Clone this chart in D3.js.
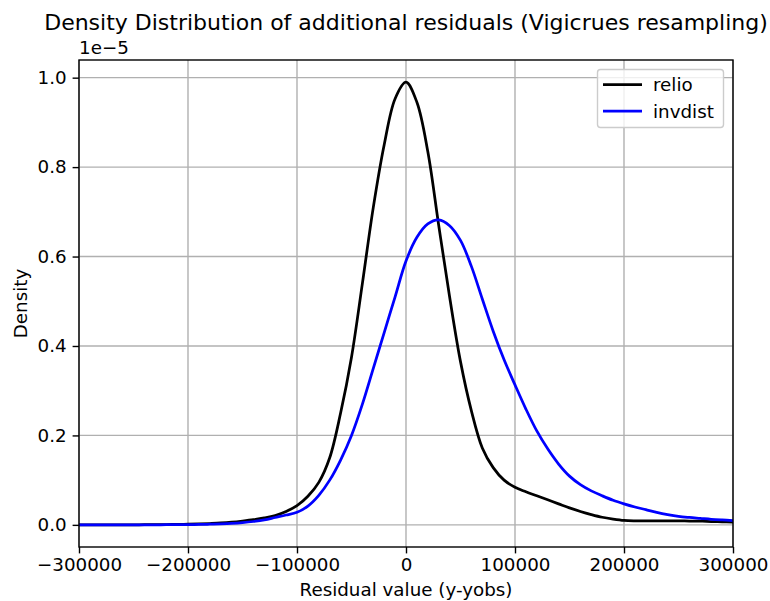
<!DOCTYPE html>
<html>
<head>
<meta charset="utf-8">
<script src="https://cdn.jsdelivr.net/npm/d3@7"></script>
<style>
  html, body { margin: 0; padding: 0; background: #fff; }
  svg { display: block; font-family: "DejaVu Sans", sans-serif; }
</style>
</head>
<body>
<svg id="chart" width="770" height="601"></svg>
<script>
// ---- data (density values in units of 1e-5) ----
const xValues = d3.range(-300000, 300001, 10000);
const relio = [
  0.0000, 0.0000, 0.0000, 0.0000, 0.0001, 0.0002, 0.0003, 0.0005, 0.0007, 0.0010,
  0.0014, 0.0020, 0.0030, 0.0042, 0.0060, 0.0085, 0.0115, 0.0155, 0.0210, 0.0300,
  0.0430, 0.0640, 0.0950, 0.1500, 0.2500, 0.3750, 0.5400, 0.7100, 0.8500, 0.9530,
  0.9900, 0.9450, 0.8350, 0.6700, 0.5100, 0.3650, 0.2550, 0.1720, 0.1280, 0.1000,
  0.0840, 0.0740, 0.0650, 0.0560, 0.0470, 0.0380, 0.0300, 0.0230, 0.0170, 0.0130,
  0.0100, 0.0090, 0.0088, 0.0088, 0.0088, 0.0088, 0.0086, 0.0082, 0.0075, 0.0068,
  0.0060
];
const invdist = [
  0.0000, 0.0000, 0.0000, 0.0000, 0.0000, 0.0001, 0.0001, 0.0002, 0.0003, 0.0004,
  0.0006, 0.0009, 0.0014, 0.0022, 0.0033, 0.0050, 0.0075, 0.0110, 0.0165, 0.0220,
  0.0280, 0.0420, 0.0660, 0.1000, 0.1450, 0.2000, 0.2700, 0.3500, 0.4300, 0.5100,
  0.5900, 0.6430, 0.6730, 0.6820, 0.6690, 0.6360, 0.5780, 0.5050, 0.4330, 0.3690,
  0.3130, 0.2590, 0.2100, 0.1700, 0.1360, 0.1090, 0.0900, 0.0760, 0.0650, 0.0550,
  0.0470, 0.0400, 0.0340, 0.0280, 0.0230, 0.0190, 0.0165, 0.0145, 0.0125, 0.0110,
  0.0097
];
const seriesNames = ["relio", "invdist"];
const seriesColors = ["#000000", "#0000ff"];
const xTicks = [-300000, -200000, -100000, 0, 100000, 200000, 300000];
const yTicks = [0.0, 0.2, 0.4, 0.6, 0.8, 1.0];
const titleText = "Density Distribution of additional residuals (Vigicrues resampling)";
const xLabel = "Residual value (y-yobs)";
const yLabel = "Density";
const offsetText = "1e\u22125";

// ---- layout ----
const svg = d3.select("#chart");
const pLeft = 79, pRight = 733, pTop = 60, pBottom = 547;
const fs = "18.3px";

const x = d3.scaleLinear().domain([-300000, 300000]).range([pLeft, pRight]);
const ymax = 0.99;
const y = d3.scaleLinear().domain([-0.05 * ymax, 1.05 * ymax]).range([pBottom, pTop]);

const fmtX = d => (d < 0 ? "\u2212" : "") + Math.abs(d);
const fmtY = d => d.toFixed(1);

// grid
const grid = svg.append("g");
xTicks.forEach(t => grid.append("line")
  .attr("x1", x(t)).attr("x2", x(t)).attr("y1", pTop).attr("y2", pBottom)
  .attr("stroke", "#b0b0b0").attr("stroke-width", 1.4));
yTicks.forEach(t => grid.append("line")
  .attr("x1", pLeft).attr("x2", pRight).attr("y1", y(t)).attr("y2", y(t))
  .attr("stroke", "#b0b0b0").attr("stroke-width", 1.4));

// clip
svg.append("clipPath").attr("id", "clip").append("rect")
  .attr("x", pLeft).attr("y", pTop).attr("width", pRight - pLeft).attr("height", pBottom - pTop);

const line = d3.line()
  .x((d, i) => x(xValues[i]))
  .y(d => y(d))
  .curve(d3.curveCatmullRom.alpha(0.5));

const lines = svg.append("g").attr("clip-path", "url(#clip)");
[relio, invdist].forEach((s, k) => {
  lines.append("path").datum(s)
    .attr("d", line)
    .attr("fill", "none")
    .attr("stroke", seriesColors[k])
    .attr("stroke-width", 2.75)
    .attr("stroke-linejoin", "round")
    .attr("stroke-linecap", "square");
});

// axes
const xAxis = d3.axisBottom(x).tickValues(xTicks).tickFormat(fmtX).tickSize(6.4).tickPadding(5);
const yAxis = d3.axisLeft(y).tickValues(yTicks).tickFormat(fmtY).tickSize(6.4).tickPadding(6);

const gx = svg.append("g").attr("transform", `translate(0,${pBottom})`).call(xAxis);
const gy = svg.append("g").attr("transform", `translate(${pLeft},0)`).call(yAxis);
[gx, gy].forEach(g => {
  g.select(".domain").remove();
  g.selectAll("line").attr("stroke", "#000").attr("stroke-width", 1.4);
  g.selectAll("text").attr("font-size", fs).attr("fill", "#000")
    .attr("font-family", "DejaVu Sans, sans-serif");
});

// spines
svg.append("rect").attr("x", pLeft).attr("y", pTop)
  .attr("width", pRight - pLeft).attr("height", pBottom - pTop)
  .attr("fill", "none").attr("stroke", "#000").attr("stroke-width", 1.4);

// texts
svg.append("text").attr("x", (pLeft + pRight) / 2).attr("y", 30)
  .attr("text-anchor", "middle").attr("font-size", "22px").text(titleText);
svg.append("text").attr("x", pLeft).attr("y", 54)
  .attr("font-size", fs).text(offsetText);
svg.append("text").attr("x", (pLeft + pRight) / 2).attr("y", 596)
  .attr("text-anchor", "middle").attr("font-size", fs).text(xLabel);
svg.append("text")
  .attr("transform", `translate(27,${(pTop + pBottom) / 2}) rotate(-90)`)
  .attr("text-anchor", "middle").attr("font-size", fs).text(yLabel);

// legend
const lg = svg.append("g");
lg.append("rect").attr("x", 597.5).attr("y", 69.5).attr("width", 126).attr("height", 58)
  .attr("rx", 3).attr("fill", "#fff").attr("fill-opacity", 0.8)
  .attr("stroke", "#cccccc").attr("stroke-width", 1.4);
seriesNames.forEach((n, k) => {
  const yy = 84.5 + k * 26.7;
  lg.append("line").attr("x1", 603).attr("x2", 642).attr("y1", yy).attr("y2", yy)
    .attr("stroke", seriesColors[k]).attr("stroke-width", 2.75);
  lg.append("text").attr("x", 653).attr("y", yy + 6.5).attr("font-size", fs).text(n);
});
</script>
</body>
</html>
